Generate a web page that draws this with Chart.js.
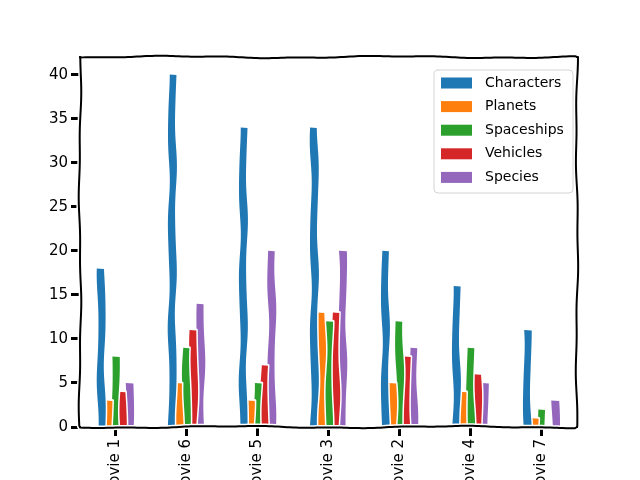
<!DOCTYPE html>
<html>
<head>
<meta charset="utf-8">
<script src="https://cdn.jsdelivr.net/npm/chart.js@4"></script>
<style>
  html, body { margin: 0; padding: 0; background: #ffffff; }
  #wrap { width: 640px; height: 480px; position: relative; }
</style>
</head>
<body>
<div id="wrap"><canvas id="c" width="640" height="480"></canvas></div>
<script>
const categories = ['Movie 1', 'Movie 6', 'Movie 5', 'Movie 3', 'Movie 2', 'Movie 4', 'Movie 7'];
const characters = [18, 40, 34, 34, 20, 16, 11];
const planets    = [3, 5, 3, 13, 5, 4, 1];
const spaceships = [8, 9, 5, 12, 12, 9, 2];
const vehicles   = [4, 11, 7, 13, 8, 6, 0];
const species    = [5, 14, 20, 20, 9, 5, 3];
const seriesNames = ['Characters', 'Planets', 'Spaceships', 'Vehicles', 'Species'];
const yTickValues = [0, 5, 10, 15, 20, 25, 30, 35, 40];

const colors = ['#1f77b4', '#ff7f0e', '#2ca02c', '#d62728', '#9467bd'];
const seriesData = [characters, planets, spaceships, vehicles, species];
const FONT = '"DejaVu Sans", sans-serif';

function wig(t, s) {
  return 1.5 * Math.sin(t / 16 + s) + 0.3 * Math.sin(t / 9.1 + s * 2.3);
}

const xkcdBars = {
  id: 'xkcdBars',
  beforeDatasetDraw(chart, args) {
    const ctx = chart.ctx;
    const meta = args.meta;
    const color = chart.data.datasets[args.index].backgroundColor;
    ctx.save();
    meta.data.forEach((bar, i) => {
      const p = bar.getProps(['x', 'y', 'base', 'width'], true);
      if (Math.abs(p.base - p.y) < 0.5) return;
      const L = p.x - p.width / 2, R = p.x + p.width / 2;
      const top = p.y, bot = p.base;
      const s1 = args.index * 1.7 + i * 2.9, s2 = s1 + 0.8;
      ctx.beginPath();
      ctx.moveTo(L + wig(bot, s1) * 0.6, bot);
      for (let yy = bot; yy > top; yy -= 3) ctx.lineTo(L + wig(yy, s1) * 0.6, yy);
      ctx.lineTo(L + wig(top, s1) * 0.6, top);
      ctx.lineTo(R + wig(top, s2) * 0.6, top + 0.5);
      for (let yy = top; yy < bot; yy += 3) ctx.lineTo(R + wig(yy, s2) * 0.6, yy);
      ctx.lineTo(R + wig(bot, s2) * 0.6, bot);
      ctx.closePath();
      ctx.lineJoin = 'round';
      ctx.strokeStyle = '#ffffff';
      ctx.lineWidth = 3;
      ctx.stroke();
      ctx.fillStyle = color;
      ctx.fill();
    });
    ctx.restore();
    return false;
  }
};

function wigLine(ctx, x0, y0, x1, y1, seed) {
  const len = Math.hypot(x1 - x0, y1 - y0);
  const nx = -(y1 - y0) / len, ny = (x1 - x0) / len;
  ctx.moveTo(x0, y0);
  for (let d = 0; d <= len; d += 3) {
    const t = d / len;
    const o = 0.9 * Math.sin(d / 35 + seed) + 0.4 * Math.sin(d / 11 + seed * 1.9);
    ctx.lineTo(x0 + (x1 - x0) * t + nx * o, y0 + (y1 - y0) * t + ny * o);
  }
  ctx.lineTo(x1, y1);
}

const xkcdFrame = {
  id: 'xkcdFrame',
  afterDraw(chart) {
    const ctx = chart.ctx;
    const a = chart.chartArea;
    ctx.save();
    const edges = [
      [a.left, a.bottom, a.right, a.bottom, 0.3],
      [a.left, a.top, a.right, a.top, 2.1],
      [a.left, a.top, a.left, a.bottom, 4.0],
      [a.right, a.top, a.right, a.bottom, 5.5]
    ];
    for (const pass of [['#ffffff', 5], ['#000000', 2]]) {
      ctx.strokeStyle = pass[0];
      ctx.lineWidth = pass[1];
      ctx.lineCap = 'round';
      ctx.lineJoin = 'round';
      for (const e of edges) {
        ctx.beginPath();
        wigLine(ctx, e[0], e[1], e[2], e[3], e[4]);
        ctx.stroke();
      }
    }
    // legend
    const bx = 434, by = 70, bw = 139, bh = 123, r = 4;
    ctx.beginPath();
    ctx.moveTo(bx + r, by);
    ctx.lineTo(bx + bw - r, by);
    ctx.quadraticCurveTo(bx + bw, by, bx + bw, by + r);
    ctx.lineTo(bx + bw, by + bh - r);
    ctx.quadraticCurveTo(bx + bw, by + bh, bx + bw - r, by + bh);
    ctx.lineTo(bx + r, by + bh);
    ctx.quadraticCurveTo(bx, by + bh, bx, by + bh - r);
    ctx.lineTo(bx, by + r);
    ctx.quadraticCurveTo(bx, by, bx + r, by);
    ctx.closePath();
    ctx.fillStyle = 'rgba(255,255,255,0.85)';
    ctx.fill();
    ctx.strokeStyle = '#d4d4d4';
    ctx.lineWidth = 1;
    ctx.stroke();
    ctx.font = '14px ' + FONT;
    ctx.textBaseline = 'middle';
    ctx.textAlign = 'left';
    chart.data.datasets.forEach((ds, i) => {
      const cy = 83 + i * 23.6;
      ctx.fillStyle = ds.backgroundColor;
      ctx.fillRect(441, cy - 5.5, 31, 11);
      ctx.fillStyle = '#000000';
      ctx.fillText(ds.label, 485, cy);
    });
    ctx.restore();
  }
};

new Chart(document.getElementById('c'), {
  type: 'bar',
  data: {
    labels: categories,
    datasets: seriesNames.map((n, i) => ({
      label: n,
      data: seriesData[i],
      backgroundColor: colors[i],
      categoryPercentage: 0.5,
      barPercentage: 1.0,
      borderWidth: 0
    }))
  },
  options: {
    responsive: false,
    animation: false,
    layout: { padding: { left: 0, top: 57, right: 63, bottom: 0 } },
    plugins: { legend: { display: false }, tooltip: { enabled: false } },
    scales: {
      x: {
        offset: true,
        border: { display: false },
        grid: { display: true, drawOnChartArea: false, drawTicks: true, tickLength: 9, tickWidth: 3, tickColor: '#000000', offset: false },
        ticks: { color: '#000000', font: { family: FONT, size: 15 }, maxRotation: 90, minRotation: 90, padding: 3, autoSkip: false },
        afterFit(s) { s.height = 53; }
      },
      y: {
        min: 0,
        max: 42,
        border: { display: false },
        grid: { display: true, drawOnChartArea: false, drawTicks: true, tickLength: 9, tickWidth: 3, tickColor: '#000000' },
        afterBuildTicks(s) { s.ticks = yTickValues.map(v => ({ value: v })); },
        ticks: { color: '#000000', font: { family: FONT, size: 15 }, padding: 3 },
        afterFit(s) { s.width = 80; }
      }
    }
  },
  plugins: [xkcdBars, xkcdFrame]
});
</script>
</body>
</html>
